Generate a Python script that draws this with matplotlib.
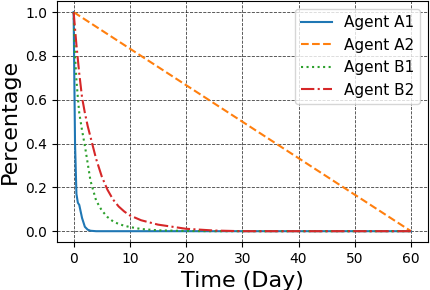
import numpy as np
import matplotlib
matplotlib.use("Agg")
import matplotlib.pyplot as plt

# values (time in days)
a1_days = [0, 0.25, 0.5, 0.75, 1, 1.5, 2, 2.5, 3, 4, 60]
a1_vals = [1.0, 0.40, 0.17, 0.13, 0.12, 0.06, 0.02, 0.007, 0.002, 0.0, 0.0]

a2_days = [0, 60]
a2_vals = [1.0, 0.0]

b1_days = [0, 0.25, 0.5, 0.75, 1, 1.5, 2, 2.5, 3, 4, 5, 6, 7, 8, 9, 10, 12, 15, 20, 25, 60]
b1_vals = [1.0, 0.80, 0.69, 0.61, 0.54, 0.46, 0.39, 0.31, 0.23, 0.14, 0.095,
           0.065, 0.045, 0.033, 0.025, 0.019, 0.010, 0.004, 0.001, 0.0, 0.0]

b2_days = [0, 0.5, 1, 1.5, 2, 2.5, 3, 4, 5, 6, 7, 8, 9, 10, 12, 15, 20, 25, 30, 60]
b2_vals = [1.0, 0.85, 0.72, 0.61, 0.54, 0.48, 0.43, 0.33, 0.25, 0.19, 0.145,
           0.113, 0.09, 0.072, 0.05, 0.03, 0.011, 0.003, 0.0, 0.0]

fig, ax = plt.subplots(figsize=(4.3, 2.9), dpi=100)
fig.subplots_adjust(left=0.132, right=0.995, top=0.996, bottom=0.165)

ax.plot(a1_days, a1_vals, color="tab:blue", linestyle="-", lw=1.5, label="Agent A1")
ax.plot(a2_days, a2_vals, color="tab:orange", linestyle="--", lw=1.5, label="Agent A2")
ax.plot(b1_days, b1_vals, color="tab:green", linestyle=":", lw=1.5, label="Agent B1")
ax.plot(b2_days, b2_vals, color="tab:red", linestyle="-.", lw=1.5, label="Agent B2")

ax.set_xticks(np.arange(0, 61, 10))
ax.set_yticks(np.arange(0, 1.01, 0.2))
ax.tick_params(labelsize=10)
ax.grid(True, color="k", linestyle="--", linewidth=0.6, alpha=0.75)

ax.set_xlabel("Time (Day)", fontsize=16)
ax.set_ylabel("Percentage", fontsize=16)
ax.legend(loc="upper right", fontsize=11)

fig.savefig("out.png")
